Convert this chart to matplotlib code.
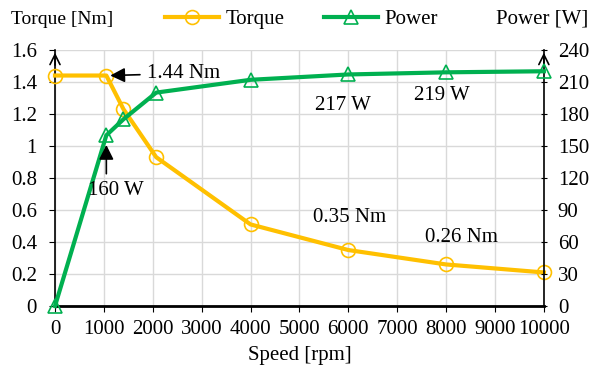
import matplotlib
matplotlib.use("Agg")
import matplotlib.pyplot as plt
from matplotlib.lines import Line2D

plt.rcParams['font.family'] = ['Liberation Serif', 'DejaVu Serif']

speed = [0, 1050, 1400, 2070, 4000, 6000, 8000, 10000]
torque = [1.44, 1.44, 1.23, 0.93, 0.51, 0.35, 0.26, 0.21]
power = [0, 160, 175, 200, 212, 217, 219, 220]

x_ticks = list(range(0, 10001, 1000))
torque_ticks = [0, 0.2, 0.4, 0.6, 0.8, 1, 1.2, 1.4, 1.6]
torque_tick_labels = ["0", "0.2", "0.4", "0.6", "0.8", "1", "1.2", "1.4", "1.6"]
power_ticks = [0, 30, 60, 90, 120, 150, 180, 210, 240]

YEL = "#FFC000"
GRN = "#00B050"

fig = plt.figure(figsize=(5.94, 3.67), dpi=100)
ax = fig.add_axes([0.0926, 0.166, 0.823, 0.698])
ax2 = ax.twinx()

ax.plot(speed, torque, color=YEL, lw=3, marker='o', ms=10, mfc='none', mec=YEL, mew=1.2, zorder=3, clip_on=False)
ax2.plot(speed, power, color=GRN, lw=3, marker='^', ms=10, mfc='none', mec=GRN, mew=1.2, zorder=3, clip_on=False)

ax.set_xlim(0, 10000)
ax.set_ylim(0, 1.6)
ax2.set_ylim(0, 240)
ax.set_xticks(x_ticks)
ax.set_yticks(torque_ticks)
ax.set_yticklabels(torque_tick_labels)
ax2.set_yticks(power_ticks)

ax.grid(True, color="#d9d9d9", lw=1)
ax.set_axisbelow(True)

for a in (ax, ax2):
    a.spines['top'].set_visible(False)
    for s in ('left', 'right', 'bottom'):
        a.spines[s].set_color('black')
ax.spines['right'].set_visible(False)
ax2.spines['left'].set_visible(False)
ax2.spines['bottom'].set_visible(False)
ax.spines['bottom'].set_linewidth(2)
ax.spines['left'].set_linewidth(1.2)
ax2.spines['right'].set_linewidth(1.2)

ax.tick_params(axis='x', labelsize=15, length=4, direction='out', color='black', pad=6)
ax.tick_params(axis='y', labelsize=15, length=4, direction='out', color='black', pad=9)
ax2.tick_params(axis='y', labelsize=15, length=4, direction='inout', color='black', pad=8)

ax.set_xlabel("Speed [rpm]", fontsize=15, labelpad=5)

# axis end arrows
ax.annotate("", xy=(0, 1.0), xytext=(0, 0.93), xycoords='axes fraction',
            arrowprops=dict(arrowstyle='->', color='black', lw=1.2, mutation_scale=18))
ax.annotate("", xy=(1, 1.0), xytext=(1, 0.93), xycoords='axes fraction',
            arrowprops=dict(arrowstyle='->', color='black', lw=1.2, mutation_scale=18))

fig.text(0.019, 0.947, "Torque [Nm]", fontsize=14, ha='left', va='center')
fig.text(0.991, 0.947, "Power [W]", fontsize=15, ha='right', va='center')

handles = [Line2D([], [], color=YEL, lw=3, marker='o', ms=10, mfc='none', mec=YEL, mew=1.2),
           Line2D([], [], color=GRN, lw=3, marker='^', ms=10, mfc='none', mec=GRN, mew=1.2)]
fig.legend(handles, ["Torque", "Power"], loc='center', bbox_to_anchor=(0.508, 0.947), ncol=2,
           frameon=False, fontsize=15, handlelength=2.6, columnspacing=1.9, handletextpad=0.3,
           borderaxespad=0)

# annotations
ax.annotate("1.44 Nm", xy=(1130, 1.44), xytext=(1880, 1.453), fontsize=15, va='center', ha='left',
            arrowprops=dict(arrowstyle='-|>', color='black', lw=1.2, mutation_scale=22, shrinkA=3, shrinkB=0))
ax2.annotate("", xy=(1050, 151), xytext=(1050, 124),
             arrowprops=dict(arrowstyle='-|>', color='black', lw=1.2, mutation_scale=22, shrinkA=0, shrinkB=0))
ax2.text(1240, 108, "160 W", fontsize=15, ha='center', va='center')
ax2.text(5890, 188, "217 W", fontsize=15, ha='center', va='center')
ax2.text(7910, 197, "219 W", fontsize=15, ha='center', va='center')
ax.text(6035, 0.556, "0.35 Nm", fontsize=15, ha='center', va='center')
ax.text(8320, 0.431, "0.26 Nm", fontsize=15, ha='center', va='center')

fig.savefig("out.png", dpi=100)
